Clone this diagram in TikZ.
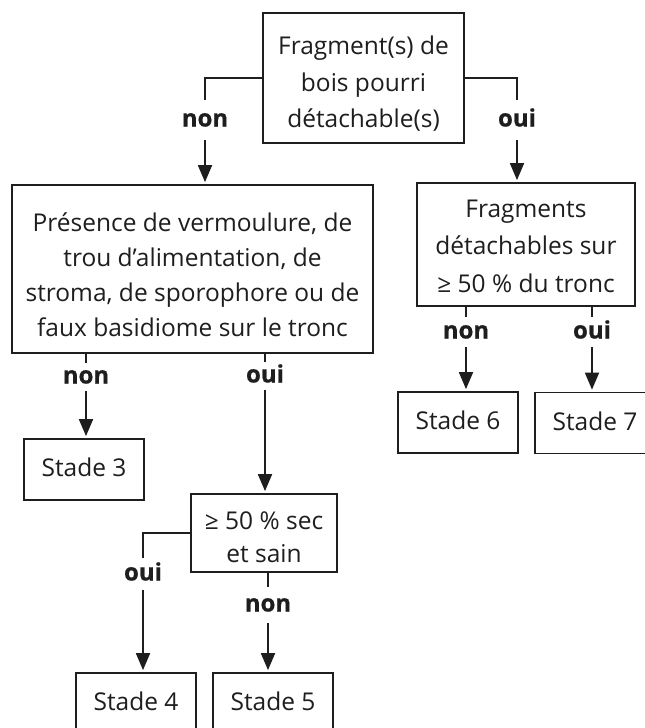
\documentclass[tikz,border=0pt]{standalone}
\usepackage{fontspec}
\setmainfont{Open Sans}
\newfontfamily\labfont{Open Sans Bold}[FakeBold=0.6]
\usetikzlibrary{arrows.meta}
\definecolor{ink}{HTML}{1E1E1E}
\newcommand\boxtext[3]{\raisebox{-#1}[\height][\depth]{\fontsize{24.5}{#2}\selectfont\begin{tabular}{@{}c@{}}#3\end{tabular}}}
\begin{document}
\begin{tikzpicture}[x=1pt,y=-1pt,
  box/.style={draw=ink, line width=1.8pt, inner sep=0pt, text=ink},
  lab/.style={inner sep=0pt, text=ink, font=\fontsize{24}{24}\labfont,
              text height=13pt, text depth=0pt, minimum width=40pt},
  conn/.style={draw=ink, line width=1.8pt},
  arr/.style={conn, -{Triangle[width=14pt,length=17pt]}, shorten >=2pt}]
\useasboundingbox (0,0) rectangle (645,728);
\clip (0,0) rectangle (645,728);
\fill[white] (0,0) rectangle (645,728);

% boxes
\node[box, minimum width=201pt, minimum height=130pt] (top) at (363.5,78)
  {\boxtext{6pt}{36.5}{Fragment(s) de\\bois pourri\\détachable(s)}};
\node[box, minimum width=361pt, minimum height=168pt] (pres) at (192.5,269)
  {\boxtext{7.5pt}{35}{Présence de vermoulure, de\\trou d’alimentation, de\\stroma, de sporophore ou de\\faux basidiome sur le tronc}};
\node[box, minimum width=218pt, minimum height=123pt] (frag) at (526,244.5)
  {\boxtext{2.5pt}{37.5}{Fragments\\détachables sur\\≥ 50 \% du tronc}};
\node[box, minimum width=120pt, minimum height=61pt] (s3) at (84,469.5)
  {\boxtext{0pt}{36}{Stade 3}};
\node[box, minimum width=146pt, minimum height=78pt] (sec) at (264,533)
  {\boxtext{6pt}{33}{≥ 50 \% sec\\et sain}};
\node[box, minimum width=120pt, minimum height=61pt] (s6) at (458,422.5)
  {\boxtext{0pt}{36}{Stade 6}};
\node[box, minimum width=120pt, minimum height=61pt] (s7) at (595,423)
  {\boxtext{0pt}{36}{Stade 7}};
\node[box, minimum width=120pt, minimum height=61pt] (s4) at (136,703.5)
  {\boxtext{0pt}{36}{Stade 4}};
\node[box, minimum width=120pt, minimum height=61pt] (s5) at (273,703.5)
  {\boxtext{0pt}{36}{Stade 5}};

% labels
\node[lab, minimum height=40pt] (l1) at (205,120) {non};
\node[lab, minimum height=40pt] (r1) at (517,120) {oui};
\node[lab, minimum height=28pt] (pn) at (86,377) {non};
\node[lab, minimum height=28pt] (po) at (265,376) {oui};
\node[lab, minimum height=30pt] (fn) at (466,332) {non};
\node[lab, minimum height=30pt] (fo) at (592,332) {oui};
\node[lab, minimum height=32pt] (so) at (143,574) {oui};
\node[lab, minimum height=36pt] (sn) at (268,605) {non};

% connectors
\draw[conn] (top.west) -| (l1.north);
\draw[arr] (l1.south) -- (pres.north -| l1.south);
\draw[conn] (top.east) -| (r1.north);
\draw[arr] (r1.south) -- (frag.north -| r1.south);

\draw[conn] (pres.south -| pn.north) -- (pn.north);
\draw[arr] (pn.south) -- (s3.north -| pn.south);
\draw[conn] (pres.south -| po.north) -- (po.north);
\draw[arr] (po.south) -- (sec.north -| po.south);

\draw[conn] (frag.south -| fn.north) -- (fn.north);
\draw[arr] (fn.south) -- (s6.north -| fn.south);
\draw[conn] (frag.south -| fo.north) -- (fo.north);
\draw[arr] (fo.south) -- (s7.north -| fo.south);

\draw[conn] (sec.west) -| (so.north);
\draw[arr] (so.south) -- (s4.north -| so.south);
\draw[conn] (sec.south -| sn.north) -- (sn.north);
\draw[arr] (sn.south) -- (s5.north -| sn.south);
\end{tikzpicture}
\end{document}
